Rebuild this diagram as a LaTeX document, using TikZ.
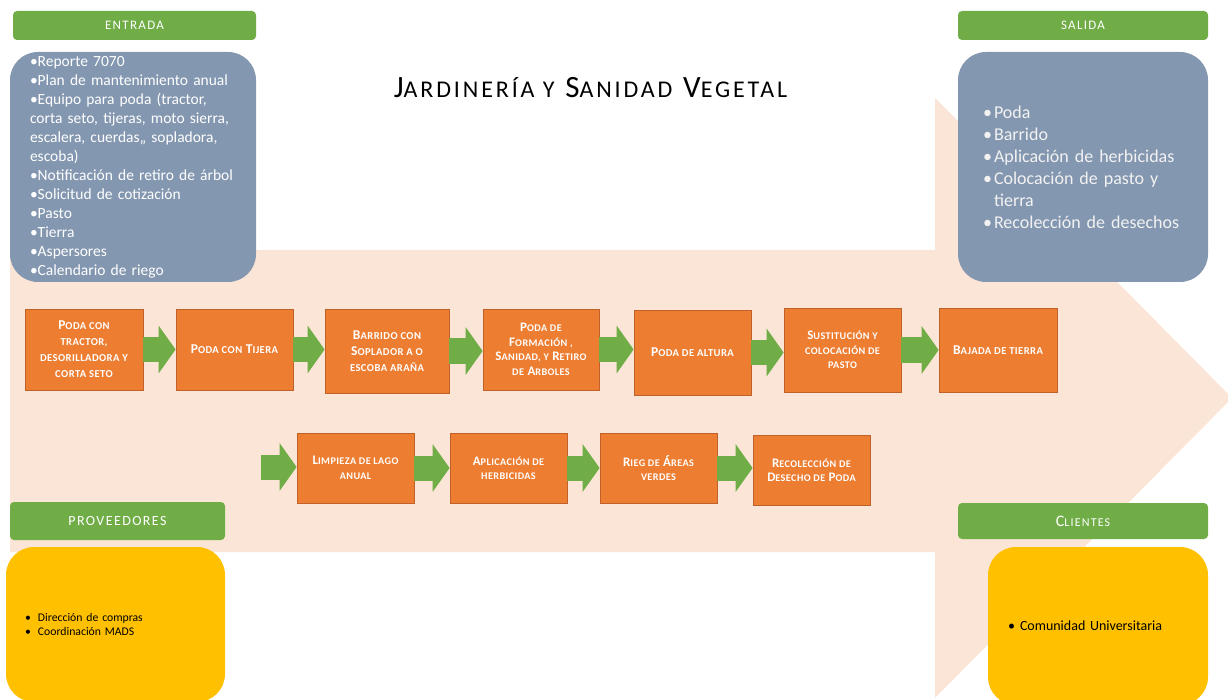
\documentclass[tikz,border=0pt]{standalone}
\usepackage{fontspec}
\setmainfont{Carlito}
\newfontfamily\ttlfont[LetterSpace=12]{Carlito}
\newfontfamily\hdrfont[LetterSpace=10]{Carlito}
\newfontfamily\procfont[LetterSpace=4]{Carlito}
\usetikzlibrary{arrows.meta}
\definecolor{peach}{HTML}{FBE5D6}
\definecolor{grn}{HTML}{70AD47}
\definecolor{bluebox}{HTML}{8497B0}
\definecolor{orng}{HTML}{ED7D31}
\definecolor{orngd}{HTML}{C0612A}
\definecolor{yel}{HTML}{FFC000}
\definecolor{ltxt}{HTML}{F2F2F2}
\newcommand\sm[1]{{\fontsize{10.6}{16}\selectfont\MakeUppercase{#1}}}
\newcommand\smb[1]{{\fontsize{10.2}{14.5}\selectfont\MakeUppercase{#1}}}
\newcommand\tsm[1]{{\fontsize{24}{28}\selectfont\MakeUppercase{#1}}}
\newcommand\hsm[1]{{\fontsize{12}{14}\selectfont\MakeUppercase{#1}}}
\newcommand\bl[1]{\makebox[#1][l]{•}}
\begin{document}
\begin{tikzpicture}[x=1pt,y=-1pt,
  hdr/.style={fill=grn, rounded corners=4pt, text=white, inner sep=0pt},
  card/.style={rounded corners=28pt, inner sep=0pt, align=left},
  proc/.style={fill=orng, draw=orngd, line width=0.8pt, text=white, align=center, inner sep=1pt},
  pf/.style={font=\procfont\bfseries\fontsize{13.5}{16}\selectfont},
  pfs/.style={font=\procfont\bfseries\fontsize{13}{14.5}\selectfont},
  flow/.style={draw=grn, line width=25pt, -{Triangle[width=47pt,length=17pt]}},
]
\useasboundingbox (0,0) rectangle (1228,700);
\clip (0,0) rectangle (1228,700);
% big background arrow
\fill[peach] (10,250) -- (935,250) -- (935,98) -- (1232,398) -- (935,698) -- (935,552) -- (10,552) -- cycle;

% title
\node (title) at (590.5,88) {\ttlfont\fontsize{31}{34}\selectfont J\tsm{ardinería y} S\tsm{anidad} V\tsm{egetal}};

% headers
\node[hdr, minimum width=243pt, minimum height=29pt] (hin) at (134.5,25.5) {\hdrfont\fontsize{13}{15}\selectfont ENTRADA};
\node[hdr, minimum width=250pt, minimum height=29pt] (hout) at (1083,25.5) {\hdrfont\fontsize{13}{15}\selectfont SALIDA};
\node[hdr, minimum width=215pt, minimum height=38pt] (hprov) at (117.5,521) {\hdrfont\fontsize{14}{16}\selectfont PROVEEDORES};
\node[hdr, minimum width=250pt, minimum height=36pt] (hcli) at (1083,521) {\hdrfont\fontsize{16}{18}\selectfont C\hsm{lientes}};

% cards
\node[card, fill=bluebox, minimum width=246pt, minimum height=230pt, text width=206pt, text=white,
  font=\fontsize{15.5}{19}\selectfont] (in) at (133,167)
 {•Reporte 7070\\
  •Plan de mantenimiento anual\\
  •Equipo para poda (tractor,\\
  corta seto, tijeras, moto sierra,\\
  escalera, cuerdas,, sopladora,\\
  escoba)\\
  •Notificación de retiro de árbol\\
  •Solicitud de cotización\\
  •Pasto\\
  •Tierra\\
  •Aspersores\\
  •Calendario de riego};
\node[card, fill=bluebox, minimum width=250pt, minimum height=230pt, text width=200pt, text=ltxt,
  font=\fontsize{18}{22}\selectfont] (out) at (1083,167)
 {\bl{11pt}Poda\\
  \bl{11pt}Barrido\\
  \bl{11pt}Aplicación de herbicidas\\
  \bl{11pt}Colocación de pasto y\\
  \hspace*{11pt}tierra\\
  \bl{11pt}Recolección de desechos};
\node[card, fill=yel, minimum width=219pt, minimum height=155pt, text width=181pt, text=black,
  font=\fontsize{11.7}{14}\selectfont] (prov) at (115.5,624.5)
 {\bl{13pt}Dirección de compras\\
  \bl{13pt}Coordinación MADS};
\node[card, fill=yel, minimum width=220pt, minimum height=158pt, text width=180pt, text=black,
  font=\fontsize{14}{17}\selectfont] (cli) at (1098,626)
 {\bl{12pt}Comunidad Universitaria};

% process boxes row 1
\node[proc, pf, minimum width=118pt, minimum height=81pt] (b1) at (84,349.5)
 {P\sm{oda con}\\\sm{tractor,}\\\sm{desorilladora y}\\\sm{corta seto}};
\node[proc, pf, minimum width=117pt, minimum height=81pt] (b2) at (234.5,349.5)
 {P\sm{oda con} T\sm{ijera}};
\node[proc, pf, minimum width=124pt, minimum height=84pt] (b3) at (387,351)
 {B\sm{arrido con}\\S\sm{oplador a o}\\\sm{escoba araña}};
\node[proc, pfs, minimum width=116pt, minimum height=81pt] (b4) at (541,349.5)
 {P\smb{oda de}\\F\smb{ormación ,}\\S\smb{anidad, y} R\smb{etiro}\\\smb{de} A\smb{rboles}};
\node[proc, pf, minimum width=117pt, minimum height=85pt] (b5) at (692.5,352.5)
 {P\sm{oda de altura}};
\node[proc, pfs, minimum width=117pt, minimum height=84pt] (b6) at (842.5,350)
 {S\smb{ustitución y}\\\smb{colocación de}\\\smb{pasto}};
\node[proc, pf, minimum width=118pt, minimum height=84pt] (b7) at (998,350)
 {B\sm{ajada de tierra}};

% row 2
\node[proc, pfs, minimum width=117pt, minimum height=70pt] (b8) at (355.5,468)
 {L\smb{impieza de lago}\\\smb{anual}};
\node[proc, pfs, minimum width=117pt, minimum height=70pt] (b9) at (508.5,468)
 {A\smb{plicación de}\\\smb{herbicidas}};
\node[proc, pfs, minimum width=117pt, minimum height=70pt] (b10) at (658.5,468)
 {R\smb{ieg de} Á\smb{reas}\\\smb{verdes}};
\node[proc, pfs, minimum width=117pt, minimum height=70pt] (b11) at (811.5,470)
 {R\smb{ecolección de}\\D\smb{esecho de} P\smb{oda}};

% flow arrows
\draw[flow] (b1.east) -- (b1.east -| b2.west);
\draw[flow] (b2.east) -- (b2.east -| b3.west);
\draw[flow] (b3.east) -- (b3.east -| b4.west);
\draw[flow] (b4.east) -- (b4.east -| b5.west);
\draw[flow] (b5.east) -- (b5.east -| b6.west);
\draw[flow] (b6.east) -- (b6.east -| b7.west);
\coordinate (s8) at (261,467);
\draw[flow] (s8) -- (s8 -| b8.west);
\draw[flow] (b8.east) -- (b8.east -| b9.west);
\draw[flow] (b9.east) -- (b9.east -| b10.west);
\draw[flow] (b10.east) -- (b10.east -| b11.west);
\end{tikzpicture}
\end{document}
